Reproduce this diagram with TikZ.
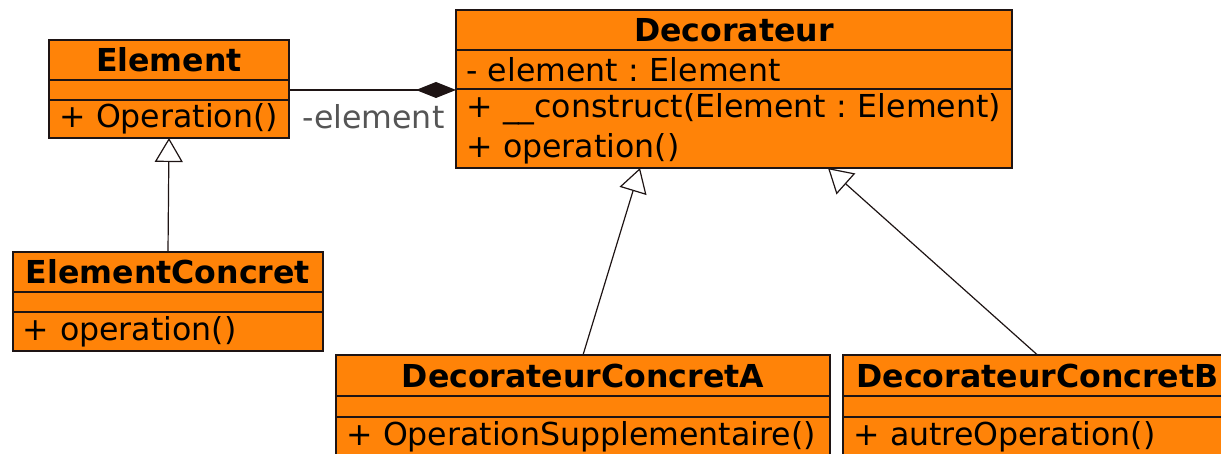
\documentclass[tikz,border=0pt]{standalone}
\usepackage{fontspec}
\setmainfont{DejaVu Sans}
\usepackage{xcolor}
\usepackage{tikz}
\usetikzlibrary{arrows.meta,positioning}
\definecolor{umlorange}{RGB}{255,131,8}
\definecolor{umlline}{RGB}{30,20,20}
\definecolor{rolegray}{RGB}{85,85,85}
\frenchspacing

\begin{document}
\begin{tikzpicture}[x=0.5pt,y=-0.5pt,
    font=\fontsize{15.8}{20}\selectfont,
    box/.style={draw=umlline, fill=umlorange, line width=0.6pt, inner sep=0pt, outer sep=0pt},
    classname/.style 2 args={box, anchor=north west, minimum width=#1, minimum height=#2,
      font=\fontsize{15.8}{20}\selectfont\bfseries},
    classrow/.style 2 args={box, inner xsep=5pt, text width=#1, minimum height=#2, align=left},
    inherit/.style={draw=umlline, line width=0.6pt, -{Triangle[length=12pt,width=14pt,fill=white]}},
    compose/.style={draw=umlline, line width=0.6pt, -{Diamond[length=20pt,width=8pt]}},
    role/.style={text=rolegray, inner sep=0pt}]
  \useasboundingbox (0,0) rectangle (1221,454);
  \clip (0,0) rectangle (1221,454);

  \node[classname={120pt}{20pt}] (elemName) at (49,40) {Element};
  \node[classrow={110pt}{10pt}, below=0pt of elemName] (elemAttr) {};
  \node[classrow={110pt}{19pt}, below=0pt of elemAttr] (elemOps) {+ Operation()};

  \node[classname={278pt}{20pt}] (decoName) at (456,10) {Decorateur};
  \node[classrow={268pt}{19.5pt}, below=0pt of decoName] (decoAttr) {- element : Element};
  \node[classrow={268pt}{39.5pt}, below=0pt of decoAttr] (decoOps)
    {+ \_\_construct(Element : Element)\\+ operation()};

  \node[classname={155pt}{20pt}] (ecName) at (13,252) {ElementConcret};
  \node[classrow={145pt}{10pt}, below=0pt of ecName] (ecAttr) {};
  \node[classrow={145pt}{19.5pt}, below=0pt of ecAttr] (ecOps) {+ operation()};

  \node[classname={247pt}{20.5pt}] (concAName) at (336,355) {DecorateurConcretA};
  \node[classrow={237pt}{10.5pt}, below=0pt of concAName] (concAAttr) {};
  \node[classrow={237pt}{20pt}, below=0pt of concAAttr] (concAOps) {+ OperationSupplementaire()};

  \node[classname={194.5pt}{20.5pt}] (concBName) at (843,355) {DecorateurConcretB};
  \node[classrow={184.5pt}{10.5pt}, below=0pt of concBName] (concBAttr) {};
  \node[classrow={184.5pt}{20pt}, below=0pt of concBAttr] (concBOps) {+ autreOperation()};

  \draw[compose] (elemAttr.east) -- (elemAttr.east -| decoName.west)
    node[role, pos=1, anchor=north east, xshift=-5.5pt, yshift=-7pt] {-element};

  \draw[inherit] (ecName.north) -- (elemOps.south);
  \draw[inherit] (concAName.north) -- ([xshift=92pt]decoOps.south west);
  \draw[inherit] (concBName.north) -- ([xshift=186pt]decoOps.south west);
\end{tikzpicture}
\end{document}
